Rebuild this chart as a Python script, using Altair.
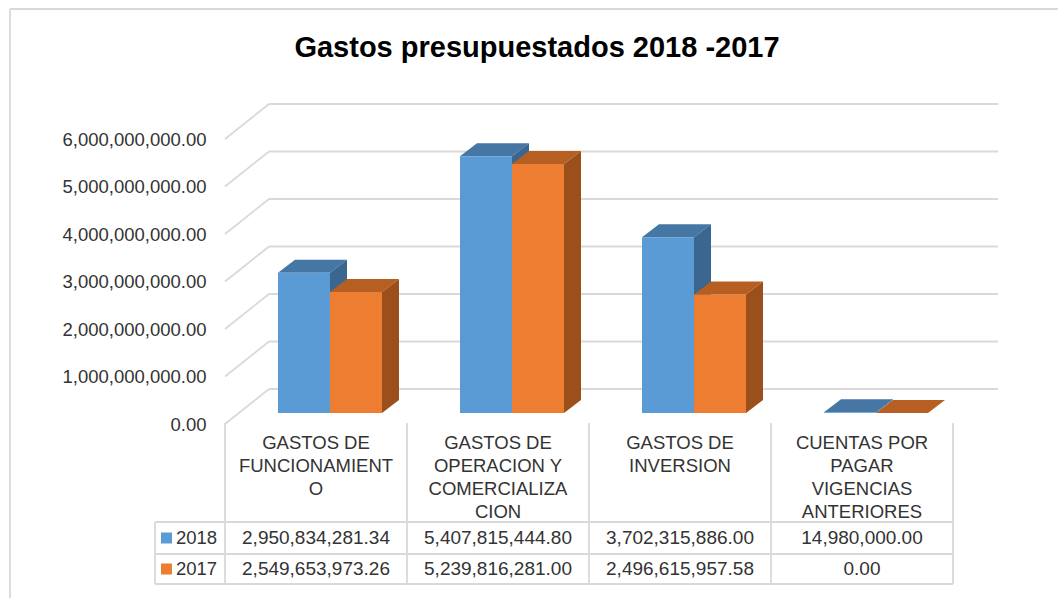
import altair as alt
import pandas as pd

# ---- data -------------------------------------------------------------
categories = [
    "GASTOS DE FUNCIONAMIENTO",
    "GASTOS DE OPERACION Y COMERCIALIZACION",
    "GASTOS DE INVERSION",
    "CUENTAS POR PAGAR VIGENCIAS ANTERIORES",
]
header_lines = [
    ["GASTOS DE", "FUNCIONAMIENT", "O"],
    ["GASTOS DE", "OPERACION Y", "COMERCIALIZA", "CION"],
    ["GASTOS DE", "INVERSION"],
    ["CUENTAS POR", "PAGAR", "VIGENCIAS", "ANTERIORES"],
]
series = ["2018", "2017"]
values_2018 = [2950834281.34, 5407815444.80, 3702315886.00, 14980000.00]
values_2017 = [2549653973.26, 5239816281.00, 2496615957.58, 0.00]
y_ticks = [0, 1e9, 2e9, 3e9, 4e9, 5e9, 6e9]
title_text = "Gastos presupuestados 2018 -2017"

# ---- look & layout ----------------------------------------------------
FONT = "Liberation Sans"
TEXT = "#333333"
GRID = "#D9D9D9"
front_col = {"2018": "#5B9BD5", "2017": "#ED7D31"}
top_col = {"2018": "#4676A4", "2017": "#B75E22"}
side_col = {"2018": "#3A6690", "2017": "#9B501C"}

PX_CAT = 182.0      # pixels per category slot
PX_BIL = 47.5       # pixels per 1e9
W, H = 773, 320
PAD = {"left": 225, "top": 104, "right": 60, "bottom": 174}


def ux(px):
    return px / PX_CAT


def uy(px):
    return px / PX_BIL * 1e9


X_MAX = ux(W)
Y_MAX = uy(H)
WALL_DX, WALL_DY = ux(44), uy(35)      # depth of the back wall
BAR_X0, BAR_Y0 = ux(14), uy(11)        # bars stand part-way into the floor
BAR_DX, BAR_DY = ux(17), uy(13)        # thickness of each bar
BAR_W = ux(52)

xs = alt.Scale(domain=[0, X_MAX], nice=False, zero=False)
ys = alt.Scale(domain=[0, Y_MAX], nice=False, zero=False)

# ---- walls / gridlines -------------------------------------------------
grid = pd.DataFrame({"t": y_ticks})
grid["tb"] = grid["t"] + WALL_DY
grid["x0"] = 0.0
grid["xb"] = WALL_DX
grid["xe"] = X_MAX

side_lines = alt.Chart(grid).mark_rule(color=GRID, strokeWidth=1.8).encode(
    x=alt.X("x0:Q", scale=xs, axis=None),
    x2="xb:Q",
    y=alt.Y(
        "t:Q",
        scale=ys,
        axis=alt.Axis(
            values=y_ticks, format=",.2f", title=None, grid=False, ticks=False,
            domain=False, labelPadding=19, labelFontSize=18.5, labelFont=FONT,
            labelColor=TEXT,
        ),
    ),
    y2="tb:Q",
)
back_lines = alt.Chart(grid).mark_rule(color=GRID, strokeWidth=1.8).encode(
    x=alt.X("xb:Q", scale=xs, axis=None),
    x2="xe:Q",
    y=alt.Y("tb:Q", scale=ys, axis=None),
)

# ---- 3-D bars ------------------------------------------------------------
fronts, faces = [], []
for s, vals in zip(series, [values_2018, values_2017]):
    for i, (cat, v) in enumerate(zip(categories, vals)):
        centre = i + 0.5 + BAR_X0
        xl = centre - BAR_W if s == "2018" else centre
        xr = xl + BAR_W
        b, t = BAR_Y0, BAR_Y0 + v
        fronts.append({"series": s, "cat": cat, "xl": xl, "xr": xr, "yb": b, "yt": t})
        top_id = f"{s}-{i}-top"
        for x, y1, y2 in [
            (xl, t, t),
            (xl + BAR_DX, t, t + BAR_DY),
            (xr, t, t + BAR_DY),
            (xr + BAR_DX, t + BAR_DY, t + BAR_DY),
        ]:
            faces.append({"series": s, "face": "top", "key": top_id, "x": x, "y": y1, "y2": y2})
        side_id = f"{s}-{i}-side"
        for x, y1, y2 in [(xr, b, t), (xr + BAR_DX, b + BAR_DY, t + BAR_DY)]:
            faces.append({"series": s, "face": "side", "key": side_id, "x": x, "y": y1, "y2": y2})

fronts = pd.DataFrame(fronts)
faces = pd.DataFrame(faces)
faces["shade"] = faces["series"] + "-" + faces["face"]
shade_dom = [f"{s}-{f}" for s in series for f in ("top", "side")]
shade_rng = [c for s in series for c in (top_col[s], side_col[s])]

bar_layers = []
for s in series:
    bar_layers.append(
        alt.Chart(faces[faces["series"] == s]).mark_area(orient="vertical").encode(
            x=alt.X("x:Q", scale=xs, axis=None),
            y=alt.Y("y:Q", scale=ys, axis=None),
            y2="y2:Q",
            detail="key:N",
            color=alt.Color("shade:N", scale=alt.Scale(domain=shade_dom, range=shade_rng), legend=None),
        )
    )
    bar_layers.append(
        alt.Chart(fronts[fronts["series"] == s]).mark_rect(color=front_col[s]).encode(
            x=alt.X("xl:Q", scale=xs, axis=None),
            x2="xr:Q",
            y=alt.Y("yb:Q", scale=ys, axis=None),
            y2="yt:Q",
        )
    )

# ---- data table under the plot --------------------------------------------
TAB_TOP, ROW1, ROW2, TAB_BOT = 319, 418, 450, 480   # pixel rows below plot top
LEG_X = ux(155 - 225)

vlines = pd.DataFrame({"x": [0, 1, 2, 3, 4]})
table_v = alt.Chart(vlines).mark_rule(color=GRID, strokeWidth=1.8).encode(
    x=alt.X("x:Q", scale=xs, axis=None), y=alt.value(TAB_TOP), y2=alt.value(TAB_BOT)
)
hlines = pd.DataFrame({"x": [LEG_X] * 3, "x2": [4] * 3, "row": [0, 1, 2]})
table_h = []
for r, yy in zip([0, 1, 2], [ROW1, ROW2, TAB_BOT]):
    table_h.append(
        alt.Chart(hlines[hlines["row"] == r]).mark_rule(color=GRID, strokeWidth=1.8).encode(
            x=alt.X("x:Q", scale=xs, axis=None), x2="x2:Q", y=alt.value(yy)
        )
    )
leg_border = alt.Chart(pd.DataFrame({"x": [LEG_X]})).mark_rule(color=GRID, strokeWidth=1.8).encode(
    x=alt.X("x:Q", scale=xs, axis=None), y=alt.value(ROW1), y2=alt.value(TAB_BOT)
)

heads = pd.DataFrame({
    "x": [i + 0.5 for i in range(len(categories))],
    "label": ["\n".join(lines) for lines in header_lines],
})
head_text = alt.Chart(heads).mark_text(
    font=FONT, fontSize=18.5, color=TEXT, align="center", baseline="top",
    lineBreak="\n", lineHeight=23,
).encode(x=alt.X("x:Q", scale=xs, axis=None), y=alt.value(330), text="label:N")

row_layers = []
for s, vals, yc in zip(series, [values_2018, values_2017], [434, 465]):
    rows = pd.DataFrame({"x": [i + 0.5 for i in range(len(vals))], "v": vals})
    row_layers.append(
        alt.Chart(rows).mark_text(font=FONT, fontSize=19, color=TEXT, baseline="middle").encode(
            x=alt.X("x:Q", scale=xs, axis=None), y=alt.value(yc),
            text=alt.Text("v:Q", format=",.2f"),
        )
    )
    key = pd.DataFrame({"xs": [ux(166.5 - 225)], "xt": [ux(176 - 225)], "s": [s]})
    row_layers.append(
        alt.Chart(key).mark_square(size=121, color=front_col[s], opacity=1).encode(
            x=alt.X("xs:Q", scale=xs, axis=None), y=alt.value(yc)
        )
    )
    row_layers.append(
        alt.Chart(key).mark_text(font=FONT, fontSize=18.5, color=TEXT, align="left", baseline="middle").encode(
            x=alt.X("xt:Q", scale=xs, axis=None), y=alt.value(yc), text="s:N"
        )
    )

# ---- title and outer chart frame -----------------------------------------
one = pd.DataFrame({"k": [0], "title": [title_text]})
title = alt.Chart(one).mark_text(
    font=FONT, fontSize=29, fontWeight="bold", color="#000000",
    align="center", baseline="alphabetic",
).encode(x=alt.value(312), y=alt.value(-47), text="title:N")
frame_left = alt.Chart(one).mark_rule(color=GRID, strokeWidth=1.8).encode(
    x=alt.value(-215), y=alt.value(-95), y2=alt.value(500)
)
frame_top = alt.Chart(one).mark_rule(color=GRID, strokeWidth=1.8).encode(
    x=alt.value(-215), x2=alt.value(900), y=alt.value(-95)
)

chart = alt.layer(
    side_lines, back_lines,
    frame_left, frame_top, title,
    *bar_layers,
    table_v, *table_h, leg_border, head_text, *row_layers,
).resolve_axis(
    x="independent", y="independent"
).properties(
    width=W,
    height=H,
    autosize=alt.AutoSizeParams(type="none"),
    padding=PAD,
    background="white",
).configure_view(stroke=None)

chart.save("out.html", embed_options={"renderer": "svg", "actions": False})
